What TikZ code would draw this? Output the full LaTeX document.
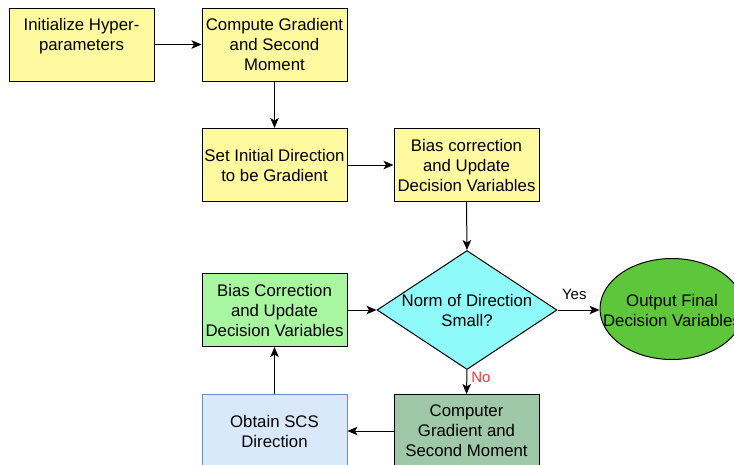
\documentclass[tikz,border=0pt]{standalone}
\usepackage{fontspec}
\setmainfont{Liberation Sans}
\usetikzlibrary{shapes.geometric,arrows.meta}
\definecolor{yel}{HTML}{FFFA9F}
\definecolor{lgreen}{HTML}{A8F7A0}
\definecolor{cyanf}{HTML}{8FFAFA}
\definecolor{dgreen}{HTML}{5DC63B}
\definecolor{sage}{HTML}{9FC8A9}
\definecolor{lblue}{HTML}{DAE8FC}
\definecolor{bblue}{HTML}{6C8EBF}
\definecolor{nored}{HTML}{FF3333}
\begin{document}
\begin{tikzpicture}[x=1pt,y=-1pt,
  font=\fontsize{16.8}{20}\selectfont,
  box/.style={draw=black,line width=1pt,minimum width=145pt,minimum height=73pt,inner sep=0pt,align=center},
  conn/.style={line width=1pt,-{Stealth[length=10pt,width=8.5pt,inset=2.5pt]}},
  lbl/.style={font=\fontsize{15}{18}\selectfont,inner sep=0pt}]
\useasboundingbox (0,0) rectangle (734,464);
\node[box,fill=yel] (init) at (81.5,44.5) {};
\node[align=center,inner sep=0pt] (initt) at (81.5,36) {Initialize Hyper-\\parameters};
\node[box,fill=yel] (grad) at (274.5,44.5) {Compute Gradient\\and Second\\Moment};
\node[box,fill=yel] (setd) at (274.5,165) {Set Initial Direction\\to be Gradient};
\node[box,fill=yel] (bias1) at (466.5,165) {Bias correction\\and Update\\Decision Variables};
\node[diamond,draw=black,line width=1pt,fill=cyanf,minimum width=180pt,minimum height=119pt,inner sep=0pt,align=center] (norm) at (467,310) {};
\node[align=center,inner sep=0pt] (normt) at (467,310) {Norm of Direction\\Small?};
\node[box,fill=lgreen] (bias2) at (274.5,310) {Bias Correction\\and Update\\Decision Variables};
\node[ellipse,draw=black,line width=1pt,fill=dgreen,minimum width=144pt,minimum height=101pt,inner sep=0pt] (out) at (672,309) {};
\node[align=center,inner sep=0pt] (outt) at (672,310) {Output Final\\Decision Variables};
\node[box,fill=lblue,draw=bblue] (scs) at (274.5,431) {Obtain SCS\\Direction};
\node[box,fill=sage] (comp) at (466.5,431) {Computer\\Gradient and\\Second Moment};
\draw[conn] (init) -- (grad);
\draw[conn] (grad) -- (setd);
\draw[conn] (setd) -- (bias1);
\draw[conn] (bias1.south) -- (norm.north);
\draw[conn] (bias2) -- (norm.west);
\draw[conn] (norm.east) -- node[lbl,above=10pt,pos=0.4] (yes) {Yes} (norm.east -| out.west);
\draw[conn] (norm.south) -- node[lbl,right=4pt,pos=0.3,text=nored] (no) {No} (comp.north);
\draw[conn] (comp) -- (scs);
\draw[conn] (scs) -- (bias2);
\end{tikzpicture}
\end{document}
